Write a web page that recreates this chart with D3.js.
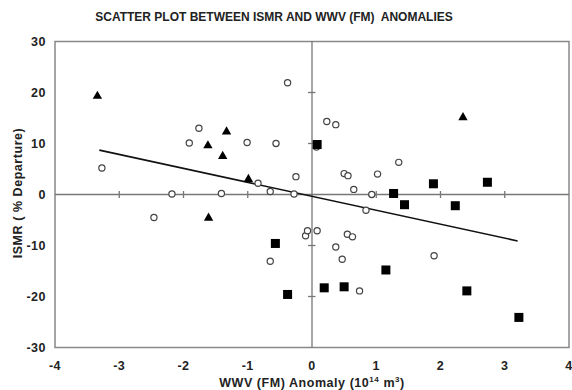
<!DOCTYPE html>
<html>
<head>
<meta charset="utf-8">
<script src="https://cdn.jsdelivr.net/npm/d3@7"></script>
<style>
  body { margin: 0; background: #fff; }
  text { font-family: "Liberation Sans", Arial, sans-serif; font-weight: bold; fill: #222; white-space: pre; }
</style>
</head>
<body>
<div id="chart"></div>
<script>
// points: [WWV anomaly, ISMR % departure]
var normalYears = [
    [-3.27, 5.2], [-2.46, -4.5], [-2.18, 0.1], [-1.91, 10.1], [-1.76, 13.0],
    [-1.41, 0.2], [-1.01, 10.2], [-0.84, 2.2], [-0.65, 0.6], [-0.65, -13.1],
    [-0.56, 10.0], [-0.38, 21.9], [-0.28, 0.1], [-0.25, 3.5], [-0.10, -8.1],
    [-0.07, -7.1], [0.07, 9.3], [0.08, -7.1], [0.23, 14.3], [0.37, 13.7],
    [0.37, -10.3], [0.47, -12.7], [0.50, 4.1], [0.56, 3.7], [0.55, -7.8],
    [0.63, -8.3], [0.65, 1.0], [0.74, -18.9], [0.84, -3.1], [0.93, 0.0],
    [1.02, 4.0], [1.35, 6.3], [1.90, -12.0]
];
var triangleYears = [
    [-3.34, 19.3], [-1.62, 9.6], [-1.61, -4.6], [-1.39, 7.5], [-1.33, 12.3],
    [-0.99, 3.0], [2.35, 15.1]
];
var squareYears = [
    [-0.57, -9.6], [-0.38, -19.6], [0.08, 9.8], [0.19, -18.3], [0.50, -18.1],
    [1.15, -14.8], [1.27, 0.2], [1.44, -2.0], [1.89, 2.1], [2.23, -2.2],
    [2.41, -18.9], [2.73, 2.4], [3.22, -24.1]
];
// trend line end points
var trendLine = [[-3.31, 8.7], [3.20, -9.1]];

var xTicks = [-4, -3, -2, -1, 0, 1, 2, 3, 4];
var yTicks = [-30, -20, -10, 0, 10, 20, 30];
var xInnerTicks = [-3, -2, -1, 1, 2, 3];
var yInnerTicks = [-20, -10, 10, 20];

var width = 572, height = 390;
var margin = {top: 41.5, right: 3, bottom: 42.5, left: 55};

var svg = d3.select("#chart").append("svg")
    .attr("width", width)
    .attr("height", height);

var x = d3.scaleLinear().domain([-4, 4]).range([margin.left, width - margin.right]);
var y = d3.scaleLinear().domain([-30, 30]).range([height - margin.bottom, margin.top]);

// title
svg.append("text")
    .attr("x", 274)
    .attr("y", 21)
    .attr("text-anchor", "middle")
    .style("font-size", "12px")
    .text("SCATTER PLOT BETWEEN ISMR AND WWV (FM)  ANOMALIES");

// frame
svg.append("rect")
    .attr("x", x(-4))
    .attr("y", y(30))
    .attr("width", x(4) - x(-4))
    .attr("height", y(-30) - y(30))
    .attr("fill", "none")
    .attr("stroke", "#888")
    .attr("stroke-width", 1.5);

// zero axes through the middle
svg.append("line")
    .attr("x1", x(-4)).attr("x2", x(4))
    .attr("y1", y(0)).attr("y2", y(0))
    .attr("stroke", "#777").attr("stroke-width", 1.3);
svg.append("line")
    .attr("x1", x(0)).attr("x2", x(0))
    .attr("y1", y(30)).attr("y2", y(-30))
    .attr("stroke", "#777").attr("stroke-width", 1.3);

svg.selectAll(".xtick")
    .data(xInnerTicks)
    .enter().append("line")
    .attr("class", "xtick")
    .attr("x1", function(d) { return x(d); })
    .attr("x2", function(d) { return x(d); })
    .attr("y1", y(0) - 3.5)
    .attr("y2", y(0) + 3.5)
    .attr("stroke", "#777").attr("stroke-width", 1.3);

svg.selectAll(".ytick")
    .data(yInnerTicks)
    .enter().append("line")
    .attr("class", "ytick")
    .attr("x1", x(0) - 4)
    .attr("x2", x(0) + 3.5)
    .attr("y1", function(d) { return y(d); })
    .attr("y2", function(d) { return y(d); })
    .attr("stroke", "#777").attr("stroke-width", 1.3);

// tick labels
svg.selectAll(".xlabel")
    .data(xTicks)
    .enter().append("text")
    .attr("class", "xlabel")
    .attr("x", function(d) { return x(d); })
    .attr("y", 370)
    .attr("text-anchor", "middle")
    .style("font-size", "12.5px")
    .style("letter-spacing", "0.5px")
    .text(function(d) { return d; });

svg.selectAll(".ylabel")
    .data(yTicks)
    .enter().append("text")
    .attr("class", "ylabel")
    .attr("x", 46)
    .attr("y", function(d) { return y(d); })
    .attr("dy", "0.35em")
    .attr("text-anchor", "end")
    .style("font-size", "12.5px")
    .style("letter-spacing", "0.5px")
    .text(function(d) { return d; });

// axis titles
var xTitle = svg.append("text")
    .attr("x", 312)
    .attr("y", 387)
    .attr("text-anchor", "middle")
    .style("font-size", "12.5px")
    .style("letter-spacing", "0.55px")
    .text("WWV (FM) Anomaly (10");
xTitle.append("tspan").attr("dy", -5).style("font-size", "8px").text("14");
xTitle.append("tspan").attr("dy", 5).text(" m");
xTitle.append("tspan").attr("dy", -5).style("font-size", "8px").text("3");
xTitle.append("tspan").attr("dy", 5).text(")");

svg.append("text")
    .attr("transform", "translate(22," + (y(0) - 1.5) + ") rotate(-90)")
    .attr("text-anchor", "middle")
    .style("font-size", "12.5px")
    .style("letter-spacing", "0.55px")
    .text("ISMR ( % Departure)");

// trend line
svg.append("line")
    .attr("x1", x(trendLine[0][0])).attr("y1", y(trendLine[0][1]))
    .attr("x2", x(trendLine[1][0])).attr("y2", y(trendLine[1][1]))
    .attr("stroke", "#111")
    .attr("stroke-width", 1.6);

// markers
svg.selectAll(".normal")
    .data(normalYears)
    .enter().append("circle")
    .attr("class", "normal")
    .attr("cx", function(d) { return x(d[0]); })
    .attr("cy", function(d) { return y(d[1]); })
    .attr("r", 3.1)
    .attr("fill", "#fff")
    .attr("stroke", "#444")
    .attr("stroke-width", 1.2);

svg.selectAll(".tri")
    .data(triangleYears)
    .enter().append("path")
    .attr("class", "tri")
    .attr("d", d3.symbol().type(d3.symbolTriangle).size(38))
    .attr("transform", function(d) { return "translate(" + x(d[0]) + "," + y(d[1]) + ")"; })
    .attr("fill", "#000");

svg.selectAll(".sq")
    .data(squareYears)
    .enter().append("rect")
    .attr("class", "sq")
    .attr("x", function(d) { return x(d[0]) - 4.5; })
    .attr("y", function(d) { return y(d[1]) - 4.5; })
    .attr("width", 9)
    .attr("height", 9)
    .attr("fill", "#000");
</script>
</body>
</html>
